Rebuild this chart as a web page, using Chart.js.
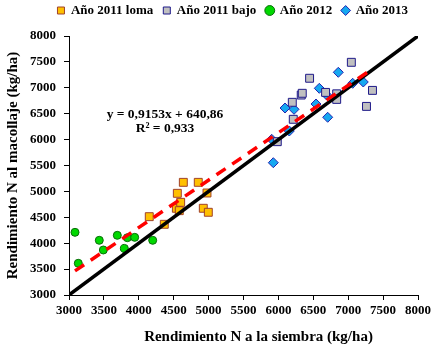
<!DOCTYPE html>
<html>
<head>
<meta charset="utf-8">
<script src="https://cdn.jsdelivr.net/npm/chart.js@4"></script>
<style>
  body { margin: 0; background: #fff; }
  #wrap { width: 438px; height: 346px; }
</style>
</head>
<body>
<div id="wrap"><canvas id="chart"></canvas></div>
<script>
// Data
const lomaX = [4150, 4365, 4552, 4538, 4580, 4600, 4638, 4852, 4977, 4924, 4996];
const lomaY = [4512, 4365, 4963, 4674, 4628, 4789, 5175, 5175, 4969, 4674, 4597];

const bajoX = [7045, 6447, 6327, 6342, 6199, 6213, 6676, 6835, 6835, 7348, 7262, 5984];
const bajoY = [7492, 7184, 6860, 6894, 6720, 6392, 6911, 6884, 6776, 6950, 6641, 5960];

const y2012X = [3086, 3133, 3434, 3492, 3692, 3793, 3836, 3941, 4199];
const y2012Y = [4210, 3612, 4056, 3869, 4152, 3900, 4106, 4113, 4056];

const y2013X = [6858, 6586, 6691, 6539, 6095, 6224, 6706, 7064, 7216, 6156, 5904, 5927];
const y2013Y = [7299, 6990, 6861, 6687, 6610, 6585, 6431, 7087, 7112, 6166, 6006, 5554];

// 1:1 line and trend line end points
const lineX = [3000, 8000];
const lineY = [3000, 8000];
const trendX = [3086, 7348];
const trendY = [3466, 7366];

const eqText = ['y = 0,9153x + 640,86', 'R\u00B2 = 0,933'];
const eqAt = [4375, 6475];

const FONT = 'Liberation Serif, Times New Roman, serif';

function pts(xs, ys) {
  return xs.map((x, i) => ({ x: x, y: ys[i] }));
}

// Draws the trend equation next to the line
const eqPlugin = {
  id: 'eq',
  afterDatasetsDraw(chart) {
    const ctx = chart.ctx;
    const px = chart.scales.x.getPixelForValue(eqAt[0]);
    const py = chart.scales.y.getPixelForValue(eqAt[1]);
    ctx.save();
    ctx.font = 'bold 13.5px ' + FONT;
    ctx.fillStyle = '#000';
    ctx.textAlign = 'center';
    ctx.textBaseline = 'middle';
    ctx.fillText(eqText[0], px, py);
    ctx.fillText(eqText[1], px, py + 14);
    ctx.restore();
  }
};

// Moves the legend row up, closer to the top edge
const legendUp = {
  id: 'legendUp',
  afterLayout(chart) {
    const lg = chart.legend;
    if (!lg) return;
    lg.top -= 9;
    lg.bottom -= 9;
  }
};

new Chart(document.getElementById('chart'), {
  type: 'scatter',
  data: {
    datasets: [
      {
        label: 'Año 2011 loma',
        data: pts(lomaX, lomaY),
        pointStyle: 'rect',
        pointRadius: 5.6,
        backgroundColor: '#FFC000',
        borderColor: '#A0422A',
        borderWidth: 1,
        order: 2
      },
      {
        label: 'Año 2011 bajo',
        data: pts(bajoX, bajoY),
        pointStyle: 'rect',
        pointRadius: 5.6,
        backgroundColor: '#C0C0C0',
        borderColor: '#1F1A8A',
        borderWidth: 1,
        order: 2
      },
      {
        label: 'Año 2012',
        data: pts(y2012X, y2012Y),
        pointStyle: 'circle',
        pointRadius: 4,
        backgroundColor: '#00D800',
        borderColor: '#0B6B0B',
        borderWidth: 1,
        order: 2
      },
      {
        label: 'Año 2013',
        data: pts(y2013X, y2013Y),
        pointStyle: 'rectRot',
        pointRadius: 5,
        backgroundColor: '#16A8F0',
        borderColor: '#2424B0',
        borderWidth: 1,
        order: 2
      },
      {
        label: 'trend',
        type: 'line',
        data: pts(trendX, trendY),
        borderColor: '#FF0000',
        borderWidth: 3.5,
        borderDash: [11, 8],
        pointRadius: 0,
        fill: false,
        order: 0
      },
      {
        label: '1:1',
        type: 'line',
        data: pts(lineX, lineY),
        borderColor: '#000000',
        borderWidth: 3.5,
        pointRadius: 0,
        fill: false,
        order: 1
      }
    ]
  },
  options: {
    responsive: true,
    maintainAspectRatio: false,
    animation: false,
    layout: { padding: { left: 0, right: 20, top: 3, bottom: 0 } },
    plugins: {
      tooltip: { enabled: false },
      legend: {
        align: 'end',
        labels: {
          filter: (item) => item.datasetIndex < 4,
          usePointStyle: true,
          boxWidth: 7,
          boxHeight: 7,
          padding: 10,
          color: '#000',
          font: { family: FONT, size: 13, weight: 'bold' }
        }
      }
    },
    scales: {
      x: {
        type: 'linear',
        min: 3000,
        max: 8000,
        afterFit: (s) => { s.height = 51; },
        ticks: {
          stepSize: 500,
          color: '#000',
          padding: 3,
          maxRotation: 0,
          callback: (v) => String(v),
          font: { family: FONT, size: 13, weight: 'bold' }
        },
        grid: { drawOnChartArea: false, color: '#000', tickLength: 5 },
        border: { color: '#000', width: 1 },
        title: {
          display: true,
          text: '\u2002\u2002\u2002\u2002Rendimiento N a la siembra (kg/ha)',
          color: '#000',
          padding: { top: 4, bottom: 0 },
          font: { family: FONT, size: 15, weight: 'bold' }
        }
      },
      y: {
        type: 'linear',
        min: 3000,
        max: 8000,
        afterFit: (s) => { s.width = 69; },
        ticks: {
          stepSize: 500,
          color: '#000',
          padding: 8,
          callback: (v) => String(v),
          font: { family: FONT, size: 13, weight: 'bold' }
        },
        grid: { drawOnChartArea: false, color: '#000', tickLength: 5 },
        border: { color: '#000', width: 1 },
        title: {
          display: true,
          text: 'Rendimiento N al macollaje (kg/ha)',
          color: '#000',
          padding: { top: 4, bottom: 2 },
          font: { family: FONT, size: 15, weight: 'bold' }
        }
      }
    }
  },
  plugins: [eqPlugin, legendUp]
});
</script>
</body>
</html>
